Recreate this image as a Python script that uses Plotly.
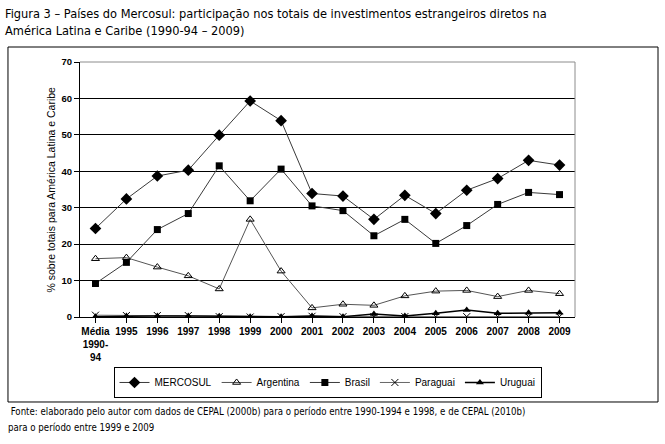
import plotly.graph_objects as go

categories = ["Média<br>1990-<br>94", "1995", "1996", "1997", "1998", "1999", "2000", "2001",
              "2002", "2003", "2004", "2005", "2006", "2007", "2008", "2009"]
mercosul = [24.3, 32.4, 38.7, 40.3, 49.9, 59.3, 53.9, 33.9, 33.2, 26.8, 33.4, 28.4, 34.8, 38.0, 43.0, 41.7]
argentina = [16.0, 16.3, 13.7, 11.3, 7.7, 26.8, 12.6, 2.5, 3.5, 3.2, 5.8, 7.1, 7.3, 5.6, 7.3, 6.4]
brasil = [9.2, 15.0, 24.0, 28.4, 41.5, 31.9, 40.6, 30.5, 29.2, 22.3, 26.8, 20.2, 25.1, 30.9, 34.2, 33.6]
paraguai = [0.5, 0.4, 0.4, 0.4, 0.1, 0.0, 0.1, 0.2, 0.1, 0.1, 0.1, 0.1, 0.1, 0.1, 0.1, 0.1]
uruguai = [0.1, 0.3, 0.3, 0.3, 0.2, 0.1, 0.1, 0.3, 0.1, 0.8, 0.3, 1.0, 1.9, 1.0, 1.2, 1.2]
yticks = [0, 10, 20, 30, 40, 50, 60, 70]

xs = list(range(len(categories)))
LINE = "#3a3a3a"
FONT = "Liberation Sans, Arial, sans-serif"
NARROW = "Liberation Sans Narrow, Arial Narrow, DejaVu Sans Condensed, sans-serif"

fig = go.Figure()
fig.add_trace(go.Scatter(x=xs, y=mercosul, name="MERCOSUL", mode="lines+markers",
                         line=dict(color=LINE, width=1),
                         marker=dict(symbol="diamond", size=9, color="black")))
fig.add_trace(go.Scatter(x=xs, y=argentina, name="Argentina", mode="lines+markers",
                         line=dict(color="#555555", width=1),
                         marker=dict(symbol="triangle-up-open", size=7, color="black",
                                     line=dict(width=1, color="black"))))
fig.add_trace(go.Scatter(x=xs, y=brasil, name="Brasil", mode="lines+markers",
                         line=dict(color=LINE, width=1),
                         marker=dict(symbol="square", size=7, color="black")))
fig.add_trace(go.Scatter(x=xs, y=paraguai, name="Paraguai", mode="lines+markers",
                         line=dict(color="#666666", width=1),
                         marker=dict(symbol="x-thin", size=7, color="black",
                                     line=dict(width=1, color="black"))))
fig.add_trace(go.Scatter(x=xs, y=uruguai, name="Uruguai", mode="lines+markers",
                         line=dict(color="black", width=1.5),
                         marker=dict(symbol="triangle-up", size=7, color="black")))

fig.update_layout(
    width=665, height=444,
    margin=dict(l=80, r=90, t=62, b=127),
    paper_bgcolor="white", plot_bgcolor="white",
    font=dict(family=FONT, color="black"),
    showlegend=True,
    legend=dict(orientation="h", x=0.5, y=-0.196, xanchor="center", yanchor="top",
                bordercolor="black", borderwidth=1, font=dict(size=10, family=FONT),
                itemwidth=30, tracegroupgap=0, bgcolor="white"),
    xaxis=dict(range=[-0.5, 15.5], tickmode="array", tickvals=xs, ticktext=categories,
               showline=True, linecolor="black", linewidth=1, ticks="outside",
               tickson="boundaries", ticklen=5, tickcolor="black", showgrid=False,
               zeroline=False, tickfont=dict(size=10, family=FONT, weight="bold")),
    yaxis=dict(range=[0, 70], tickmode="array", tickvals=yticks,
               showline=True, linecolor="black", linewidth=1, ticks="outside",
               ticklen=5, tickcolor="black", showgrid=True, gridcolor="black", gridwidth=1,
               zeroline=False, tickfont=dict(size=9.5, family=FONT, weight="bold")),
)

# grey frame top and right of plot area
fig.add_shape(type="path", xref="paper", yref="paper", path="M 0 1 L 1 1 L 1 0",
              line=dict(color="#8c8c8c", width=1), layer="above")
# outer chart border
fig.add_shape(type="rect", xref="paper", yref="paper",
              x0=-0.1455, x1=1.1677, y0=-0.3333, y1=1.0588,
              line=dict(color="black", width=1), layer="below")

fig.add_annotation(text="% sobre totais para América Latina e Caribe", xref="paper", yref="paper",
                   x=-0.0586, y=0.5, textangle=-90, showarrow=False,
                   font=dict(size=10.5, family=FONT), xanchor="center", yanchor="middle")

fig.add_annotation(text="Figura 3 – Países do Mercosul: participação nos totais de investimentos estrangeiros diretos na",
                   xref="paper", yref="paper", x=(3 - 80) / 495, y=(317 - 13) / 255,
                   xanchor="left", yanchor="middle", showarrow=False,
                   font=dict(size=12.7, family=NARROW))
fig.add_annotation(text="América Latina e Caribe (1990-94 – 2009)",
                   xref="paper", yref="paper", x=(3 - 80) / 495, y=(317 - 31) / 255,
                   xanchor="left", yanchor="middle", showarrow=False,
                   font=dict(size=12.7, family=NARROW))
fig.add_annotation(text=" Fonte: elaborado pelo autor com dados de CEPAL (2000b) para o período entre 1990-1994 e 1998, e de CEPAL (2010b)",
                   xref="paper", yref="paper", x=(6 - 80) / 495, y=(317 - 411) / 255,
                   xanchor="left", yanchor="middle", showarrow=False,
                   font=dict(size=9.6, family=NARROW))
fig.add_annotation(text="para o período entre 1999 e 2009",
                   xref="paper", yref="paper", x=(6 - 80) / 495, y=(317 - 427) / 255,
                   xanchor="left", yanchor="middle", showarrow=False,
                   font=dict(size=9.6, family=NARROW))

fig.write_html("out.html", post_script="document.body.style.margin='0';",
               config={"displayModeBar": False})
